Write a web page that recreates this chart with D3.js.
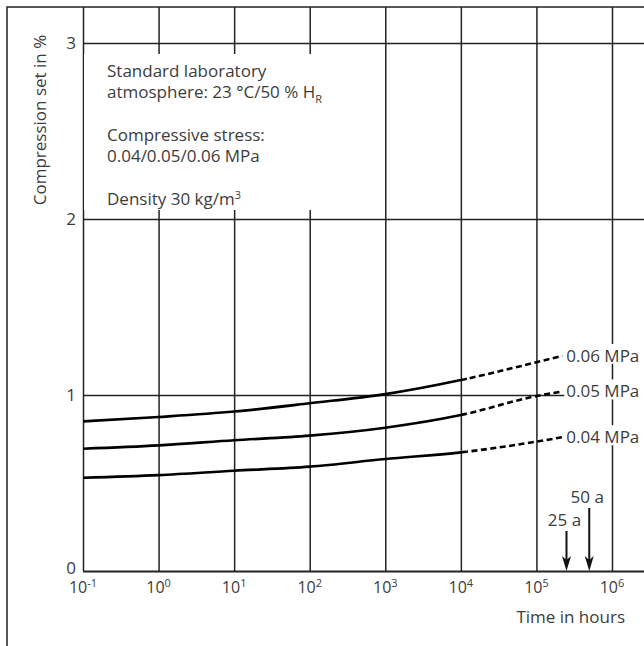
<!DOCTYPE html>
<html>
<head>
<meta charset="utf-8">
<script src="https://cdn.jsdelivr.net/npm/d3@7"></script>
<style>
	body { margin: 0; background: #fff; }
	svg text { font-family: "Open Sans", sans-serif; font-weight: 400; fill: #3c3c3c; }
</style>
</head>
<body>
<svg id="chart" width="644" height="646"></svg>
<script>
// time axis (hours) and compression set readings (%)
var hours = [0.1, 1, 10, 100, 1000, 10000, 100000, 220000];
var set006 = [0.85, 0.875, 0.906, 0.953, 1.005, 1.085, 1.186, 1.222];
var set005 = [0.695, 0.714, 0.743, 0.769, 0.814, 0.886, 0.994, 1.02];
var set004 = [0.53, 0.545, 0.57, 0.593, 0.636, 0.674, 0.735, 0.76];
var seriesNames = ["0.06 MPa", "0.05 MPa", "0.04 MPa"];
// measured up to here, extrapolated (dashed) beyond
var measuredUntil = 12000;

var yTicks = [0, 1, 2, 3];
var xTicks = [0.1, 1, 10, 100, 1000, 10000, 100000, 1000000];
var xExponents = ["-1", "0", "1", "2", "3", "4", "5", "6"];

var serviceLabels = ["25 a", "50 a"];
var serviceHours = [250000, 500000];

// info box, pieces: [text, "", "sub" or "sup"]
var infoLines = [
	[["Standard laboratory", ""]],
	[["atmosphere: 23 °C/50 % H", ""], ["R", "sub"]],
	[],
	[["Compressive stress:", ""]],
	[["0.04/0.05/0.06 MPa", ""]],
	[],
	[["Density 30 kg/m", ""], ["3", "sup"]]
];

var svg = d3.select("#chart");
var W = 644, H = 646;

var x = d3.scaleLog()
	.domain([0.1, 1000000])
	.range([83, 612]);

var y = d3.scaleLinear()
	.domain([0, 3])
	.range([571, 43]);

// outer frame
svg.append("path")
	.attr("d", "M7," + H + "V7H" + W)
	.attr("fill", "none")
	.attr("stroke", "#222")
	.attr("stroke-width", 1.5);

// vertical grid (decades)
var xGrid = svg.append("g")
	.attr("transform", "translate(0," + y(0) + ")")
	.call(d3.axisBottom(x)
		.tickValues(xTicks)
		.tickSize(-(y(0) - 7))
		.tickFormat(""));
xGrid.select(".domain").remove();
xGrid.selectAll("line")
	.attr("stroke", "#222")
	.attr("stroke-width", 1.5);

// horizontal grid + y labels
var yGrid = svg.append("g")
	.attr("transform", "translate(" + x(0.1) + ",0)")
	.call(d3.axisLeft(y)
		.tickValues(yTicks)
		.tickSize(-(W - x(0.1)))
		.tickPadding(7)
		.tickFormat(d3.format("d")));
yGrid.select(".domain").remove();
yGrid.selectAll("line")
	.attr("stroke", "#222")
	.attr("stroke-width", (d) => d === 0 ? 2 : 1.5);
yGrid.selectAll("text")
	.attr("font-size", 17)
	.attr("font-family", null)
	.attr("dy", (d) => d === 0 ? "0.15em" : "0.3em");

// x tick labels as powers of ten
xTicks.forEach(function (t, i) {
	var label = svg.append("text")
		.attr("x", x(t))
		.attr("y", 593)
		.attr("text-anchor", "middle")
		.attr("font-size", 16);
	label.append("tspan").text("10");
	label.append("tspan")
		.attr("font-size", 11)
		.attr("dy", -6)
		.text(xExponents[i]);
});

// white box behind the info text
svg.append("rect")
	.attr("x", x(0.1) + 1)
	.attr("y", 54)
	.attr("width", 268)
	.attr("height", 156)
	.attr("fill", "#fff");

infoLines.forEach(function (line, i) {
	if (line.length === 0) return;
	var t = svg.append("text")
		.attr("x", 107)
		.attr("y", 77 + i * 21.3)
		.attr("font-size", 17);
	var shift = 0;
	line.forEach(function (piece) {
		var dy = 0, size = 17;
		if (piece[1] === "sub") { dy = 5; size = 11; }
		if (piece[1] === "sup") { dy = -6; size = 11; }
		t.append("tspan")
			.attr("dy", dy - shift)
			.attr("font-size", size)
			.text(piece[0]);
		shift = dy;
	});
});

// curves
var series = [set006, set005, set004].map(function (vals, i) {
	return {
		name: seriesNames[i],
		points: vals.map((v, j) => ({ t: hours[j], v: v }))
	};
});

var line = d3.line()
	.x((d) => x(d.t))
	.y((d) => y(d.v))
	.curve(d3.curveMonotoneX);

var defs = svg.append("defs");
defs.append("clipPath").attr("id", "measured")
	.append("rect")
	.attr("x", 0).attr("y", 0)
	.attr("width", x(measuredUntil)).attr("height", H);
defs.append("clipPath").attr("id", "extrapolated")
	.append("rect")
	.attr("x", x(measuredUntil)).attr("y", 0)
	.attr("width", W - x(measuredUntil)).attr("height", H);

svg.append("g")
	.attr("clip-path", "url(#measured)")
	.selectAll("path")
	.data(series)
	.enter()
	.append("path")
	.attr("d", (d) => line(d.points))
	.attr("fill", "none")
	.attr("stroke", "#000")
	.attr("stroke-width", 2.6);

svg.append("g")
	.attr("clip-path", "url(#extrapolated)")
	.selectAll("path")
	.data(series)
	.enter()
	.append("path")
	.attr("d", (d) => line(d.points))
	.attr("fill", "none")
	.attr("stroke", "#000")
	.attr("stroke-width", 2.6)
	.attr("stroke-dasharray", "6,3.5");

// end labels with white backing
series.forEach(function (s) {
	var last = s.points[s.points.length - 1];
	var lx = x(last.t), ly = y(last.v);
	svg.append("rect")
		.attr("x", lx + 2)
		.attr("y", ly - 12)
		.attr("width", W - lx - 2)
		.attr("height", 20)
		.attr("fill", "#fff");
	svg.append("text")
		.attr("x", lx + 4)
		.attr("y", ly)
		.attr("dy", "0.35em")
		.attr("font-size", 17)
		.text(s.name);
});

// service life arrows
var arrowLen = [40, 63];
serviceHours.forEach(function (h, i) {
	var ax = x(h), tip = y(0), top = tip - arrowLen[i];
	svg.append("line")
		.attr("x1", ax).attr("x2", ax)
		.attr("y1", top).attr("y2", tip - 10)
		.attr("stroke", "#111")
		.attr("stroke-width", 2);
	svg.append("path")
		.attr("d", "M" + ax + "," + tip + "l-4.5,-15l4.5,4l4.5,-4z")
		.attr("fill", "#111");
	svg.append("text")
		.attr("x", ax - 2)
		.attr("y", top - 5)
		.attr("text-anchor", "middle")
		.attr("font-size", 17)
		.text(serviceLabels[i]);
});

// axis titles
svg.append("text")
	.attr("transform", "translate(46,120) rotate(-90)")
	.attr("text-anchor", "middle")
	.attr("font-size", 17)
	.text("Compression set in %");

svg.append("text")
	.attr("x", 625)
	.attr("y", 623)
	.attr("text-anchor", "end")
	.attr("font-size", 17)
	.text("Time in hours");
</script>
</body>
</html>
